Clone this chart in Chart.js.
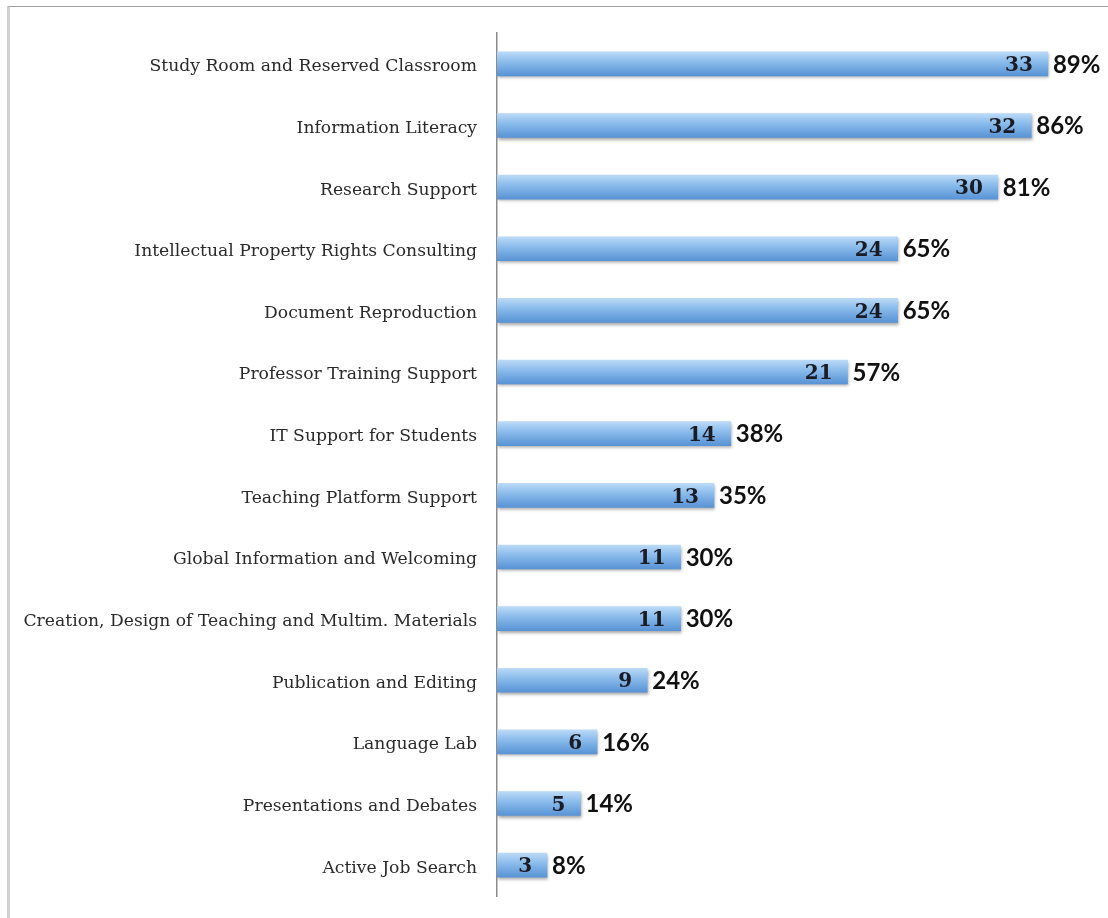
<!DOCTYPE html>
<html lang="en">

<head>
    <meta charset="UTF-8">
    <title>Library Services</title>
    <script src="https://cdn.jsdelivr.net/npm/chart.js"></script>
</head>
<style>
    html, body {
        margin: 0;
        padding: 0;
        background-color: white;
    }

    .frame {
        position: absolute;
        left: 7px;
        top: 6px;
        width: 1101px;
        height: 912px;
        border-left: 3px solid #d2d2d2;
        border-top: 1px solid #a0a0a0;
        box-sizing: border-box;
    }

    .chart-container {
        position: absolute;
        left: 0;
        top: 0;
        width: 1108px;
        height: 918px;
    }
</style>

<body>
    <div class="frame"></div>
    <div class="chart-container">
        <canvas id="myChart"></canvas>
    </div>

    <script>
        // Data
        const categories = [
            'Study Room and Reserved Classroom',
            'Information Literacy',
            'Research Support',
            'Intellectual Property Rights Consulting',
            'Document Reproduction',
            'Professor Training Support',
            'IT Support for Students',
            'Teaching Platform Support',
            'Global Information and Welcoming',
            'Creation, Design of Teaching and Multim. Materials',
            'Publication and Editing',
            'Language Lab',
            'Presentations and Debates',
            'Active Job Search'
        ];
        const counts = [33, 32, 30, 24, 24, 21, 14, 13, 11, 11, 9, 6, 5, 3];
        const percents = ['89%', '86%', '81%', '65%', '65%', '57%', '38%', '35%', '30%', '30%', '24%', '16%', '14%', '8%'];

        // Gradient for each bar, light on top and darker at the bottom
        function barGradient(context) {
            const chart = context.chart;
            if (!chart.chartArea || !chart.scales.y) {
                return '#7fb3e8';
            }
            const y = chart.scales.y.getPixelForValue(context.dataIndex);
            const g = chart.ctx.createLinearGradient(0, y - 12, 0, y + 12);
            g.addColorStop(0, '#bcdaf7');
            g.addColorStop(0.4, '#8cbdec');
            g.addColorStop(1, '#5893d5');
            return g;
        }

        // Soft shadow under the bars
        const barShadow = {
            id: 'barShadow',
            beforeDatasetDraw(chart) {
                const c = chart.ctx;
                c.save();
                c.shadowColor = 'rgba(0, 0, 0, 0.35)';
                c.shadowOffsetX = 1;
                c.shadowOffsetY = 2;
                c.shadowBlur = 3;
            },
            afterDatasetDraw(chart) {
                chart.ctx.restore();
            }
        };

        // Count inside the bar end and percent just after it
        const barLabels = {
            id: 'barLabels',
            afterDatasetsDraw(chart) {
                const c = chart.ctx;
                const meta = chart.getDatasetMeta(0);
                c.save();
                c.textBaseline = 'middle';
                meta.data.forEach((bar, i) => {
                    c.font = 'bold 20px "DejaVu Serif"';
                    c.fillStyle = '#1b1b24';
                    c.textAlign = 'right';
                    c.fillText(counts[i], bar.x - 15, bar.y + 2);

                    c.font = 'bold 24px Lato';
                    c.fillStyle = '#111';
                    c.textAlign = 'left';
                    c.fillText(percents[i], bar.x + 5, bar.y + 1);
                });
                c.restore();
            }
        };

        const ctx = document.getElementById('myChart');
        let myChart = new Chart(ctx, {
            type: 'bar',
            data: {
                labels: categories,
                datasets: [{
                    data: counts,
                    backgroundColor: barGradient,
                    borderWidth: 0,
                    barThickness: 24
                }]
            },
            options: {
                indexAxis: 'y',
                responsive: true,
                maintainAspectRatio: false,
                animation: false,
                layout: {
                    padding: { top: 33, bottom: 22, right: 10, left: 0 }
                },
                scales: {
                    x: {
                        display: false,
                        min: 0,
                        max: 36
                    },
                    y: {
                        afterFit(scale) {
                            // fixed axis width, and no extra room for label overflow
                            scale.width = 497;
                            scale.paddingTop = 0;
                            scale.paddingBottom = 0;
                        },
                        grid: { display: false, drawTicks: false },
                        border: { display: true, color: '#8c8c8c', width: 1.5 },
                        ticks: {
                            padding: 20,
                            labelOffset: 3,
                            color: '#2a2a2a',
                            font: { family: 'DejaVu Serif', size: 17.2 }
                        }
                    }
                },
                plugins: {
                    legend: { display: false },
                    tooltip: { enabled: false }
                }
            },
            plugins: [barShadow, barLabels]
        });
    </script>
</body>

</html>
